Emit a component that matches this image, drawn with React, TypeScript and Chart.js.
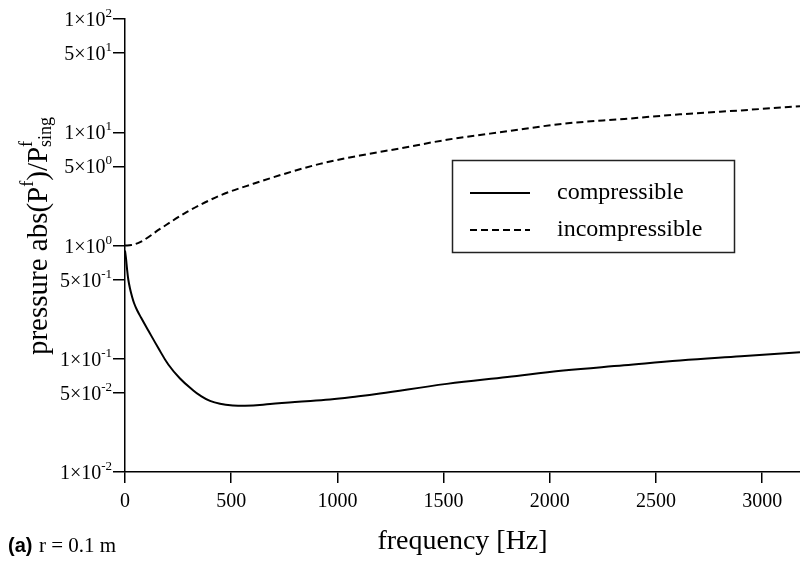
import React, { useEffect, useRef } from "react";
import { Chart, registerables } from "chart.js";

Chart.register(...registerables);

const compFreq = [0, 4.7, 9.4, 15.5, 23.5, 33, 42.4, 56.5, 75.3, 109.7, 155.4, 203.9, 259, 321.6, 353, 400.2, 447.3, 508.5, 565, 683, 800, 965, 1100, 1200, 1515, 1800, 2064, 2350, 2613, 2900, 3178];
const compValues = [0.903, 0.768, 0.626, 0.501, 0.417, 0.3546, 0.3107, 0.2695, 0.2313, 0.1776, 0.1257, 0.089, 0.0669, 0.0524, 0.0474, 0.0424, 0.04, 0.0387, 0.0384, 0.0398, 0.0416, 0.0436, 0.0466, 0.0493, 0.06, 0.069, 0.0787, 0.0875, 0.0965, 0.105, 0.114];

const incFreq = [0, 30, 71, 165, 290, 447, 604, 761, 918, 1106, 1300, 1515, 1800, 2064, 2350, 2613, 2900, 3178];
const incValues = [1.0, 1.01, 1.07, 1.4, 1.97, 2.76, 3.51, 4.35, 5.26, 6.23, 7.23, 8.58, 10.2, 11.9, 13.1, 14.4, 15.6, 17.0];

const xTicks = [0, 500, 1000, 1500, 2000, 2500, 3000];
const yTickValues = [0.01, 0.05, 0.1, 0.5, 1, 5, 10, 50, 100];
const yTickMantissa = ["1", "5", "1", "5", "1", "5", "1", "5", "1"];
const yTickExponent = ["-2", "-2", "-1", "-1", "0", "0", "1", "1", "2"];

const seriesNames = ["compressible", "incompressible"];
const xTitle = "frequency [Hz]";
const panelTag = "(a)";
const panelText = "r = 0.1 m";

const SERIF = "'Liberation Serif', 'Times New Roman', serif";
const SANS = "'Liberation Sans', Arial, sans-serif";

type Seg = { t: string; size: number; dy?: number; noAdvance?: boolean; family?: string; weight?: string };

function segFont(s: Seg) {
  return `${s.weight || "normal"} ${s.size}px ${s.family || SERIF}`;
}
function measureSegs(ctx: CanvasRenderingContext2D, segs: Seg[]) {
  let w = 0;
  for (const s of segs) {
    ctx.font = segFont(s);
    if (!s.noAdvance) w += ctx.measureText(s.t).width;
  }
  return w;
}
function drawSegs(ctx: CanvasRenderingContext2D, segs: Seg[], x: number, y: number) {
  let cx = x;
  ctx.textBaseline = "alphabetic";
  ctx.textAlign = "left";
  for (const s of segs) {
    ctx.font = segFont(s);
    ctx.fillText(s.t, cx, y + (s.dy || 0));
    if (!s.noAdvance) cx += ctx.measureText(s.t).width;
  }
}

const overlayPlugin = {
  id: "overlay",
  afterDraw(chart: any) {
    const ctx: CanvasRenderingContext2D = chart.ctx;
    const yScale = chart.scales.y;
    const area = chart.chartArea;
    ctx.save();
    ctx.fillStyle = "#000";

    // y tick labels
    yTickValues.forEach((v, i) => {
      const py = yScale.getPixelForValue(v);
      const segs: Seg[] = [
        { t: yTickMantissa[i] + "×10", size: 20 },
        { t: yTickExponent[i], size: 13, dy: -9 },
      ];
      const w = measureSegs(ctx, segs);
      drawSegs(ctx, segs, area.left - 13 - w, py + 7);
    });

    // y title
    const ySegs: Seg[] = [
      { t: "pressure abs(P", size: 29 },
      { t: "f", size: 18, dy: -14 },
      { t: ")/P", size: 29 },
      { t: "f", size: 18, dy: -15, noAdvance: true },
      { t: "sing", size: 18, dy: 4 },
    ];
    const yw = measureSegs(ctx, ySegs);
    ctx.save();
    ctx.translate(47, 236);
    ctx.rotate(-Math.PI / 2);
    drawSegs(ctx, ySegs, -yw / 2, 0);
    ctx.restore();

    // x title
    ctx.font = `28px ${SERIF}`;
    ctx.textAlign = "center";
    ctx.textBaseline = "alphabetic";
    ctx.fillText(xTitle, (area.left + area.right) / 2, 549);

    // legend
    const bx = 452.5, by = 160.5, bw = 282, bh = 92;
    ctx.strokeStyle = "#222";
    ctx.lineWidth = 1.5;
    ctx.strokeRect(bx, by, bw, bh);
    const rows = [193, 230];
    chart.data.datasets.forEach((ds: any, i: number) => {
      const ly = rows[i];
      ctx.beginPath();
      ctx.strokeStyle = ds.borderColor;
      ctx.lineWidth = ds.borderWidth;
      ctx.setLineDash(ds.borderDash || []);
      ctx.moveTo(470, ly);
      ctx.lineTo(530, ly);
      ctx.stroke();
      ctx.setLineDash([]);
      ctx.font = `24px ${SERIF}`;
      ctx.textAlign = "left";
      ctx.textBaseline = "middle";
      ctx.fillStyle = "#000";
      ctx.fillText(ds.label, 557, ly);
    });

    // panel label
    ctx.textBaseline = "alphabetic";
    ctx.textAlign = "left";
    ctx.font = `bold 20px ${SANS}`;
    ctx.fillText(panelTag, 8, 552);
    ctx.font = `21px ${SERIF}`;
    ctx.fillText(panelText, 39, 552);
    ctx.restore();
  },
};

export default function App() {
  const ref = useRef<HTMLCanvasElement>(null);
  useEffect(() => {
    if (!ref.current) return;
    const chart = new Chart(ref.current, {
      type: "line",
      data: {
        datasets: [
          {
            label: seriesNames[0],
            data: compFreq.map((f, i) => ({ x: f, y: compValues[i] })),
            borderColor: "#000",
            borderWidth: 2,
            pointRadius: 0,
            fill: false,
            tension: 0.4,
          },
          {
            label: seriesNames[1],
            data: incFreq.map((f, i) => ({ x: f, y: incValues[i] })),
            borderColor: "#000",
            borderWidth: 2,
            borderDash: [7, 4],
            pointRadius: 0,
            fill: false,
            cubicInterpolationMode: "monotone",
          },
        ],
      },
      options: {
        animation: false,
        responsive: false,
        maintainAspectRatio: false,
        layout: { padding: { left: 0, right: 0, top: 19, bottom: 0 } },
        plugins: { legend: { display: false }, tooltip: { enabled: false } },
        scales: {
          x: {
            type: "linear",
            position: "bottom",
            min: 0,
            max: 3178,
            afterBuildTicks: (s: any) => {
              s.ticks = xTicks.map((v) => ({ value: v }));
            },
            afterFit: (s: any) => {
              s.height = 90;
            },
            grid: { display: true, drawOnChartArea: false, drawTicks: true, tickLength: 11, color: "#000", lineWidth: 1.5 },
            border: { display: true, color: "#000", width: 1.5 },
            ticks: {
              font: { family: SERIF, size: 20 },
              color: "#000",
              padding: 7,
              maxRotation: 0,
              autoSkip: false,
              callback: (v: any) => String(v),
            },
          },
          y: {
            type: "logarithmic",
            position: "left",
            min: 0.01,
            max: 100,
            afterBuildTicks: (s: any) => {
              s.ticks = yTickValues.map((v) => ({ value: v }));
            },
            afterFit: (s: any) => {
              s.width = 125;
            },
            grid: { display: true, drawOnChartArea: false, drawTicks: true, tickLength: 12, color: "#000", lineWidth: 1.5 },
            border: { display: true, color: "#000", width: 1.5 },
            ticks: { display: false },
          },
        },
      },
      plugins: [overlayPlugin],
    } as any);
    return () => chart.destroy();
  }, []);
  return (
    <div style={{ position: "fixed", left: 0, top: 0, width: 800, height: 562, background: "#fff" }}>
      <canvas ref={ref} width={800} height={562} style={{ width: 800, height: 562 }} />
    </div>
  );
}
